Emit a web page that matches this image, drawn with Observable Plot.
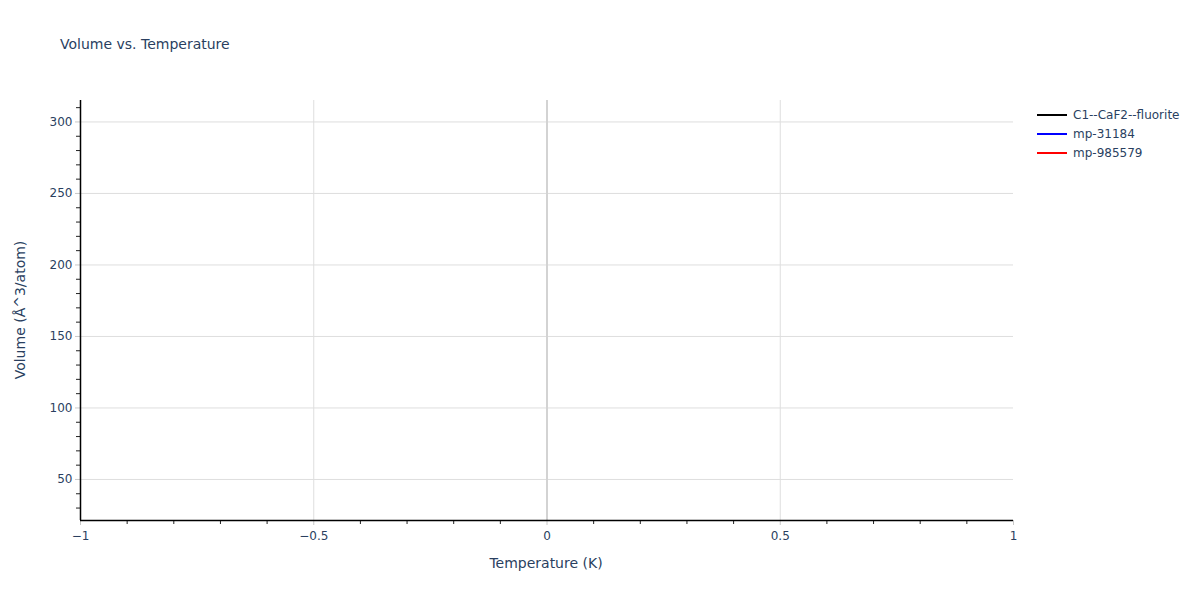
<!DOCTYPE html>
<html>
<head>
<meta charset="utf-8">
<script src="https://cdn.jsdelivr.net/npm/d3@7"></script>
<script src="https://cdn.jsdelivr.net/npm/@observablehq/plot@0.6"></script>
<style>
  html, body { margin: 0; padding: 0; background: #fff; }
  #wrap { position: relative; width: 1200px; height: 600px; font-family: "DejaVu Sans", Verdana, sans-serif; color: #2a3f5f; }
  #title { position: absolute; left: 60px; top: 36px; font-size: 14px; white-space: nowrap; }
  #legend { position: absolute; left: 1037px; top: 105px; font-size: 12px; }
  .item { display: flex; align-items: center; height: 19px; }
  .swatch { width: 30px; height: 2px; margin-right: 6px; }
  .ytitle { position: absolute; left: 20px; top: 310px; transform: translate(-50%, -50%) rotate(-90deg); font-size: 14px; white-space: nowrap; }
  .xtitle { position: absolute; left: 546px; top: 563px; transform: translate(-50%, -50%); font-size: 14px; white-space: nowrap; }
</style>
</head>
<body>
<div id="wrap">
  <div id="chart"></div>
  <div id="title">Volume vs. Temperature</div>
  <div id="legend"></div>
  <div class="ytitle">Volume (Å^3/atom)</div>
  <div class="xtitle">Temperature (K)</div>
</div>
<script>
// Series (each has a single point at T = 0, so no line segment is visible)
const seriesNames = ["C1--CaF2--fluorite", "mp-31184", "mp-985579"];
const seriesColors = ["#000000", "#0000ff", "#ff0000"];
const temperatures = [0, 0, 0];
const volumes = [36, 170, 300];

const xDomain = [-1, 1];
const yDomain = [21.3, 315];
const xMajorTicks = [-1, -0.5, 0, 0.5, 1];
const yMajorTicks = [50, 100, 150, 200, 250, 300];
const xGrid = [-0.5, 0.5];
const xZero = [0];

const data = seriesNames.map((name, i) => ({ series: name, temperature: temperatures[i], volume: volumes[i] }));
const xMinorTicks = d3.range(-9, 10).filter(v => v % 5 !== 0).map(v => v / 10);
const yMinorTicks = d3.range(30, 315, 10).filter(v => v % 50 !== 0);

const chart = Plot.plot({
  width: 1200,
  height: 600,
  marginLeft: 80,
  marginRight: 187,
  marginTop: 100,
  marginBottom: 80,
  style: { fontFamily: '"DejaVu Sans", Verdana, sans-serif', fontSize: "12px", color: "#2a3f5f", background: "#fff" },
  x: { domain: xDomain },
  y: { domain: yDomain },
  color: { domain: seriesNames, range: seriesColors },
  marks: [
    Plot.ruleY(yMajorTicks, { stroke: "#dedede", strokeWidth: 1 }),
    Plot.ruleX(xGrid, { stroke: "#dedede", strokeWidth: 1 }),
    Plot.ruleX(xZero, { stroke: "#d3d3d3", strokeWidth: 2 }),
    Plot.line(data, { x: "temperature", y: "volume", z: "series", stroke: "series", strokeWidth: 2, strokeLinecap: "butt" }),
    Plot.axisX({ ticks: xMajorTicks, tickSize: 5, stroke: "#c8c8c8", tickPadding: 6, fontSize: 12, fill: "#2a3f5f", label: null, tickFormat: d3.format("") }),
    Plot.axisX({ ticks: xMinorTicks, tickSize: 4, stroke: "#222", text: null, label: null }),
    Plot.axisY({ ticks: yMajorTicks, tickSize: 5, stroke: "#c8c8c8", tickPadding: 3, fontSize: 12, fill: "#2a3f5f", label: null }),
    Plot.axisY({ ticks: yMinorTicks, tickSize: 4, stroke: "#222", text: null, label: null }),
    Plot.ruleY([yDomain[0]], { stroke: "#000", strokeWidth: 1.5 }),
    Plot.ruleX([xDomain[0]], { stroke: "#000", strokeWidth: 1.5 })
  ]
});
document.getElementById("chart").appendChild(chart);

const legend = document.getElementById("legend");
seriesNames.forEach((name, i) => {
  const item = document.createElement("div");
  item.className = "item";
  const sw = document.createElement("div");
  sw.className = "swatch";
  sw.style.background = seriesColors[i];
  const label = document.createElement("span");
  label.textContent = name;
  item.appendChild(sw);
  item.appendChild(label);
  legend.appendChild(item);
});
</script>
</body>
</html>
